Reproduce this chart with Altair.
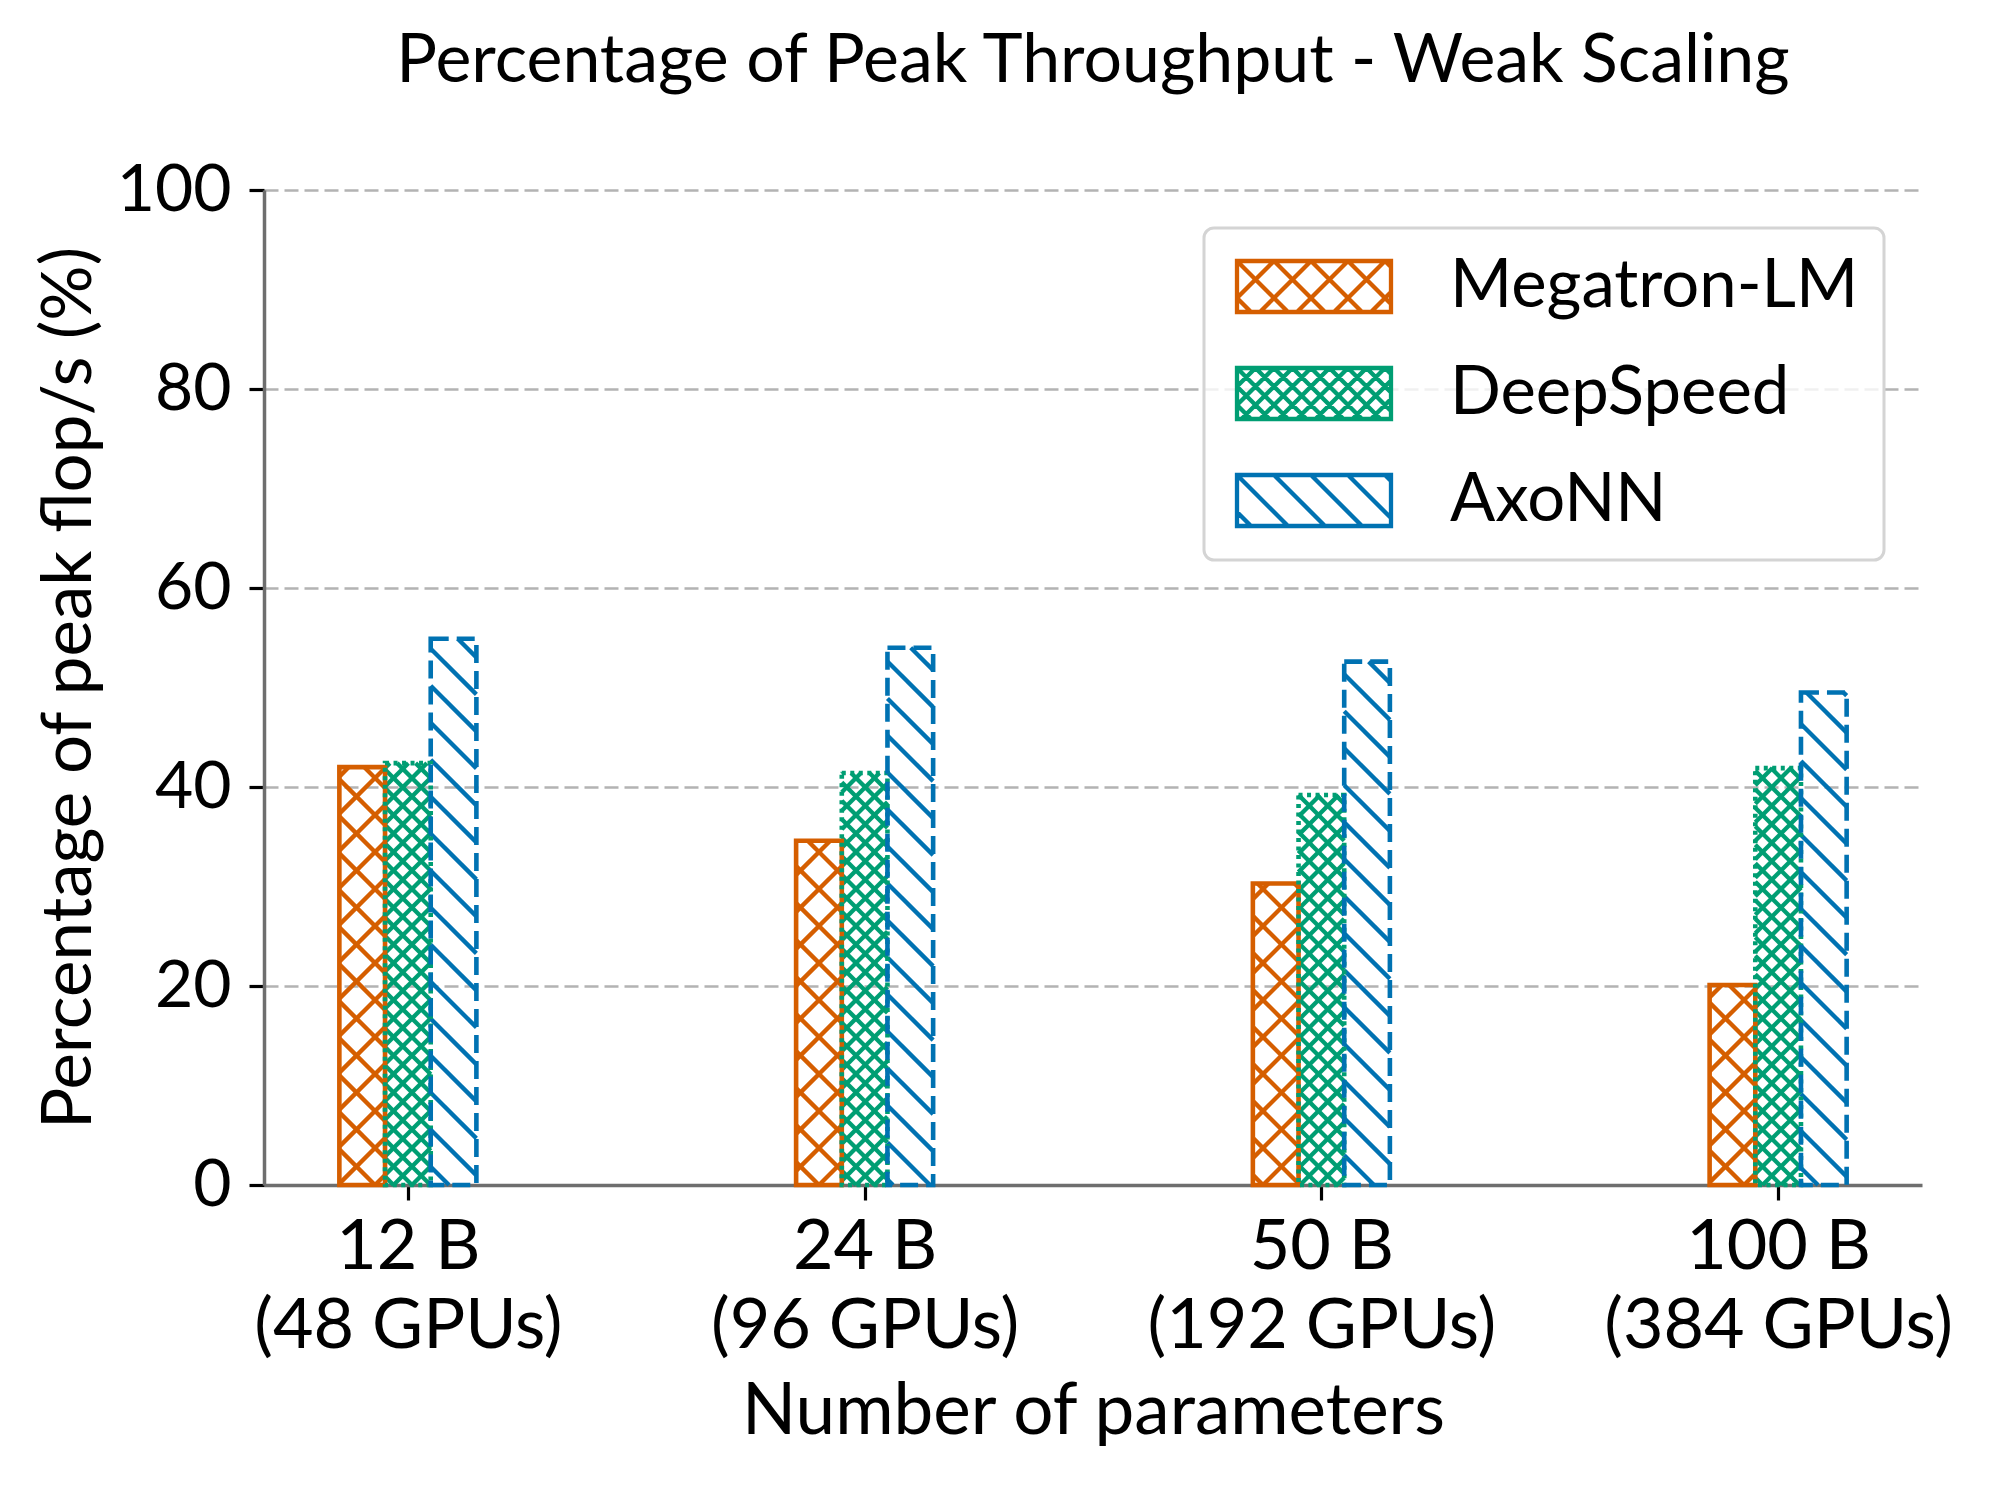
import math
import altair as alt
import pandas as pd

# ---------------- data ----------------
frameworks = ["Megatron-LM", "DeepSpeed", "AxoNN"]
model_sizes = ["12 B", "24 B", "50 B", "100 B"]
gpu_counts = ["(48 GPUs)", "(96 GPUs)", "(192 GPUs)", "(384 GPUs)"]
megatron = [42.0, 34.6, 30.3, 20.1]
deepspeed = [42.4, 41.4, 39.2, 41.9]
axonn = [54.9, 54.0, 52.6, 49.5]

# ---------------- style ----------------
colors = ["#d55e00", "#009e73", "#0072b2"]
hatch_spacing = [37, 18.5, 37]            # px between parallel hatch lines
hatch_dirs = [("\\", "/"), ("\\", "/"), ("\\",)]
edge_dashes = [[1, 0], [4, 4.5], [18, 8]]
FONT = "Lato"

W, H = 1658, 995
xmin, xmax = -0.315, 3.315
kx = W / (xmax - xmin)
ky = H / 100.0
bar_w = 0.1
offsets = [-0.1, 0.0, 0.1]
series = [megatron, deepspeed, axonn]


def hatch_segments(X0, X1, Y0, Y1, d, dirs, ydown=False):
    """Clip 45-degree hatch lines to rectangle [X0,X1]x[Y0,Y1] (pixel units)."""
    segs = []
    for dr in dirs:
        desc = (dr == "\\") != ydown  # x + y = c
        if desc:
            kmin = math.floor((X0 + Y0) / d) - 1
            kmax = math.ceil((X1 + Y1) / d) + 1
            for k in range(kmin, kmax + 1):
                c = k * d
                lo, hi = max(X0, c - Y1), min(X1, c - Y0)
                if hi - lo > 0.5:
                    segs.append((lo, c - lo, hi, c - hi))
        else:
            kmin = math.floor((X0 - Y1) / d) - 1
            kmax = math.ceil((X1 - Y0) / d) + 1
            for k in range(kmin, kmax + 1):
                c = k * d
                lo, hi = max(X0, c + Y0), min(X1, c + Y1)
                if hi - lo > 0.5:
                    segs.append((lo, lo - c, hi, hi - c))
    return segs


bar_rows, hatch_rows = [], []
for fi, name in enumerate(frameworks):
    for gi, v in enumerate(series[fi]):
        xc = gi + offsets[fi]
        x0, x1 = xc - bar_w / 2, xc + bar_w / 2
        bar_rows.append(dict(framework=name, sid=fi, x0=x0, x1=x1, xc=xc, value=v))
        X0, X1 = (x0 - xmin) * kx, (x1 - xmin) * kx
        for (a, b, c, e) in hatch_segments(X0, X1, 0.0, v * ky, hatch_spacing[fi], hatch_dirs[fi]):
            hatch_rows.append(dict(framework=name, sid=fi,
                                   hx=a / kx + xmin, hy=b / ky,
                                   hx2=c / kx + xmin, hy2=e / ky))

bars_df = pd.DataFrame(bar_rows)
hatch_df = pd.DataFrame(hatch_rows)

# legend patch shapes (custom SVG paths in symbol units)
SYM = 51.0
u = SYM / 2.0
PW, PH = 154.0, 51.0


def patch_path(fi):
    ux = lambda p: p / u - 1.0
    parts = ["M-1,-1H%.3fV1H-1Z" % ux(PW)]
    for (a, b, c, e) in hatch_segments(0.0, PW, 0.0, PH, hatch_spacing[fi], hatch_dirs[fi], ydown=True):
        parts.append("M%.3f,%.3fL%.3f,%.3f" % (ux(a), ux(b), ux(c), ux(e)))
    return "".join(parts)


patch_paths = [patch_path(i) for i in range(3)]

label_js = "[" + ",".join("['%s','%s']" % (a, b) for a, b in zip(model_sizes, gpu_counts)) + "]"

x_scale = alt.Scale(domain=[xmin, xmax], nice=False, zero=False)
y_scale = alt.Scale(domain=[0, 100], nice=False)
sid_stroke = alt.Scale(domain=[0, 1, 2], range=colors)
sid_dash = alt.Scale(domain=[0, 1, 2], range=edge_dashes)

x_axis = alt.Axis(values=[0, 1, 2, 3], labelExpr=label_js + "[datum.value]",
                  title="Number of parameters", grid=False, titleFontSize=71,
                  labelFontSize=70, labelLineHeight=79, labelPadding=13, titlePadding=16)
y_axis = alt.Axis(values=[0, 20, 40, 60, 80, 100], title="Percentage of peak flop/s (%)",
                  grid=True, gridDash=[14, 6], gridColor="#b3b3b3", gridWidth=2.5,
                  labelFontSize=66, labelPadding=18, titlePadding=12, titleFontSize=69)

legend = alt.Legend(title=None, orient="top-right", offset=38,
                    labelFont=FONT, labelFontSize=67, labelColor="black", labelLimit=800,
                    symbolSize=SYM * SYM, symbolStrokeWidth=4.3, symbolOpacity=1,
                    symbolFillColor="transparent",
                    labelOffset=154, rowPadding=38, padding=25,
                    fillColor="rgba(255,255,255,0.8)", strokeColor="#d4d4d4",
                    cornerRadius=10)

hatch = alt.Chart(hatch_df).mark_rule(strokeWidth=4.3, strokeCap="butt").encode(
    x=alt.X("hx:Q", scale=x_scale, axis=x_axis),
    x2="hx2:Q",
    y=alt.Y("hy:Q", scale=y_scale, axis=y_axis),
    y2="hy2:Q",
    stroke=alt.Stroke("sid:N", scale=sid_stroke, legend=None),
)

bars = alt.Chart(bars_df).mark_bar(fill="transparent", strokeWidth=4.6).encode(
    x="x0:Q",
    x2="x1:Q",
    y="value:Q",
    y2=alt.datum(0),
    stroke=alt.Stroke("sid:N", scale=sid_stroke, legend=None),
    strokeDash=alt.StrokeDash("sid:N", scale=sid_dash, legend=None),
)

legend_pts = alt.Chart(bars_df).mark_point(filled=False, opacity=0, size=SYM * SYM, strokeWidth=4.3).encode(
    x="xc:Q",
    y="value:Q",
    color=alt.Color("framework:N", scale=alt.Scale(domain=frameworks, range=colors), legend=legend),
    shape=alt.Shape("framework:N", scale=alt.Scale(domain=frameworks, range=patch_paths), legend=legend),
)

chart = alt.layer(hatch, bars, legend_pts).properties(
    width=W, height=H,
    title=alt.TitleParams("Percentage of Peak Throughput - Weak Scaling",
                          font=FONT, fontSize=68, fontWeight="normal", color="black",
                          anchor="middle", frame="group", offset=61),
    autosize=alt.AutoSizeParams(type="none"),
    padding={"left": 256, "top": 182, "right": 70, "bottom": 290},
).configure_view(stroke=None).configure_axis(
    labelFont=FONT, titleFont=FONT,
    labelColor="black", titleColor="black", titleFontWeight="normal",
    tickColor="black", tickSize=15, tickWidth=3.2, labelLimit=1000,
    domainColor="#6e6e6e", domainWidth=3.5,
).configure_legend(strokeWidth=3)

chart.save("out.html", embed_options={"renderer": "svg", "actions": False})
